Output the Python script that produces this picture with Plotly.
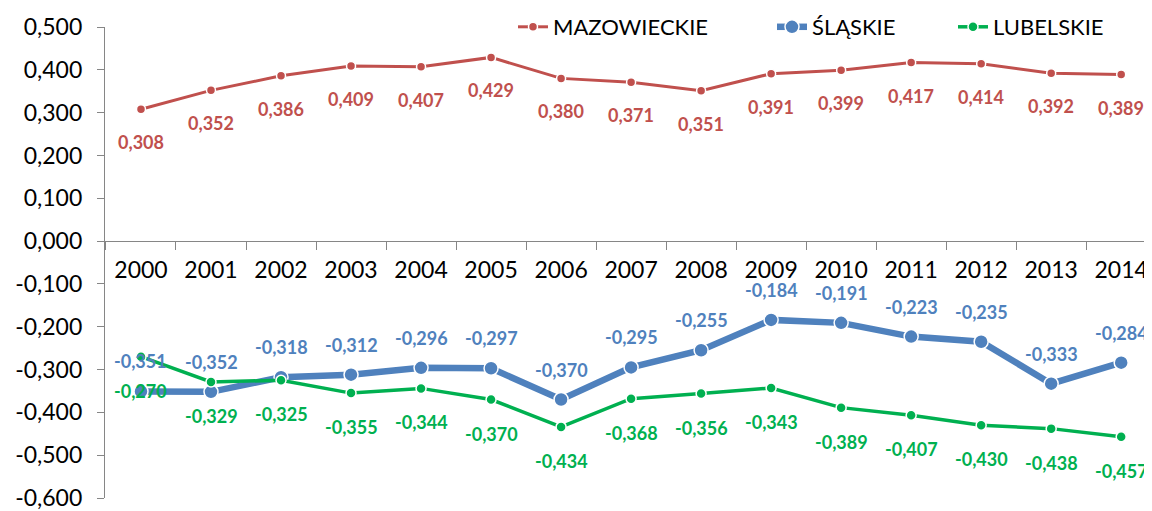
import plotly.graph_objects as go

years = [str(y) for y in range(2000, 2015)]
mazowieckie = [0.308, 0.352, 0.386, 0.409, 0.407, 0.429, 0.380, 0.371, 0.351, 0.391, 0.399, 0.417, 0.414, 0.392, 0.389]
slaskie = [-0.351, -0.352, -0.318, -0.312, -0.296, -0.297, -0.370, -0.295, -0.255, -0.184, -0.191, -0.223, -0.235, -0.333, -0.284]
lubelskie = [-0.270, -0.329, -0.325, -0.355, -0.344, -0.370, -0.434, -0.368, -0.356, -0.343, -0.389, -0.407, -0.430, -0.438, -0.457]

y_ticks = [0.5, 0.4, 0.3, 0.2, 0.1, 0.0, -0.1, -0.2, -0.3, -0.4, -0.5, -0.6]

def fmt(v):
    return f"{v:.3f}".replace(".", ",")

RED = "#C0504D"
BLUE = "#4F81BD"
GREEN = "#00B050"
FONT = "Lato"

series = [
    ("MAZOWIECKIE", mazowieckie, RED, 3, 9, 33, "legend", 505),
    ("ŚLĄSKIE", slaskie, BLUE, 6.5, 14, -30, "legend2", 764),
    ("LUBELSKIE", lubelskie, GREEN, 3.5, 10, 34, "legend3", 945),
]

fig = go.Figure()
annotations = []
legends = {}
for name, vals, color, lw, ms, shift, leg, lx in series:
    fig.add_trace(go.Scatter(
        x=years, y=vals, name=name, mode="lines+markers",
        line=dict(color=color, width=lw),
        marker=dict(size=ms, color=color, line=dict(color="white", width=1.5)),
        legend=leg,
    ))
    for i, v in enumerate(vals):
        annotations.append(dict(
            x=i, y=v, xref="x", yref="y", text=fmt(v), showarrow=False,
            yshift=-shift, font=dict(family=FONT, size=18, color=color, weight="bold"),
        ))
    legends[leg] = dict(
        orientation="h", xref="container", yref="container",
        x=lx / 1152, y=1 - 19 / 511, xanchor="left", yanchor="middle",
        font=dict(family=FONT, size=22, color="black"),
        bgcolor="rgba(0,0,0,0)",
    )

fig.update_layout(
    width=1152, height=511,
    margin=dict(l=97, r=8, t=19, b=21, autoexpand=False),
    paper_bgcolor="white", plot_bgcolor="white",
    font=dict(family=FONT, size=23, color="black"),
    annotations=annotations,
    xaxis=dict(
        type="category", range=[-0.514, 14.44],
        anchor="free", position=0.6 / 1.1,
        showline=True, linecolor="#868686", linewidth=1.3,
        ticks="outside", ticklen=8, tickcolor="#868686", tickson="boundaries",
        ticklabelstandoff=8,
        showgrid=False, zeroline=False,
        tickfont=dict(family=FONT, size=23, color="black"),
    ),
    yaxis=dict(
        range=[-0.6, 0.5],
        tickvals=y_ticks, ticktext=[fmt(v) for v in y_ticks],
        showline=True, linecolor="#868686", linewidth=1.3,
        ticks="outside", ticklen=7, tickcolor="#868686",
        ticklabelstandoff=10,
        showgrid=False, zeroline=False,
        tickfont=dict(family=FONT, size=23, color="black"),
    ),
    showlegend=True,
    **legends,
)

fig.write_html("out.html")
